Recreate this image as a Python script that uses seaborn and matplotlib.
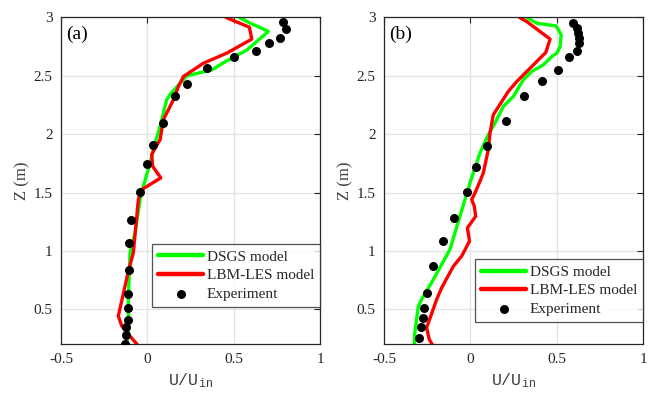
import numpy as np
import pandas as pd
import matplotlib
matplotlib.use("Agg")
import matplotlib.pyplot as plt
import seaborn as sns

sns.set_style("white")
plt.rcParams['font.family'] = ['Liberation Serif', 'DejaVu Serif']
plt.rcParams['mathtext.fontset'] = 'custom'
plt.rcParams['mathtext.tt'] = 'Liberation Mono'
plt.rcParams['mathtext.rm'] = 'Liberation Mono'

# ---------------- Panel (a) ----------------
a_dsgs_u = [0.531, 0.605, 0.643, 0.701, 0.576, 0.45, 0.373, 0.228, 0.132, 0.112,
            0.074, 0.045, 0.016, -0.023, -0.042, -0.071, -0.10, -0.11, -0.11, -0.12]
a_dsgs_z = [3.0, 2.944, 2.92, 2.88, 2.72, 2.62, 2.55, 2.5, 2.34, 2.295,
            2.067, 1.925, 1.754, 1.554, 1.44, 1.157, 0.987, 0.585, 0.30, 0.2]

a_les_u = [0.454, 0.591, 0.605, 0.46, 0.325, 0.209, 0.18, 0.151, 0.093, 0.074,
           0.045, 0.025, 0.031, 0.078, -0.032, -0.052, -0.081, -0.11, -0.168,
           -0.148, -0.10, -0.058]
a_les_z = [3.0, 2.916, 2.814, 2.694, 2.608, 2.494, 2.408, 2.295, 2.124, 1.953,
           1.882, 1.825, 1.725, 1.626, 1.526, 1.44, 0.985, 0.827, 0.443,
           0.357, 0.27, 0.198]

a_exp_u = [0.784, 0.804, 0.769, 0.703, 0.63, 0.502, 0.344, 0.228, 0.162, 0.089,
           0.035, 0.0, -0.042, -0.093, -0.104, -0.104, -0.112, -0.11, -0.112,
           -0.125, -0.125, -0.127]
a_exp_z = [2.964, 2.90, 2.82, 2.785, 2.716, 2.665, 2.568, 2.426, 2.323, 2.10,
           1.91, 1.742, 1.506, 1.269, 1.064, 0.836, 0.631, 0.511, 0.406,
           0.346, 0.28, 0.204]

# ---------------- Panel (b) ----------------
b_dsgs_u = [0.327, 0.385, 0.497, 0.526, 0.52, 0.501, 0.472, 0.423, 0.356, 0.307,
            0.249, 0.191, 0.143, 0.099, 0.056, -0.002, -0.031, -0.118, -0.214,
            -0.282, -0.301, -0.324, -0.324]
b_dsgs_z = [3.0, 2.95, 2.927, 2.85, 2.75, 2.694, 2.665, 2.594, 2.537, 2.466,
            2.323, 2.238, 2.096, 1.981, 1.84, 1.583, 1.44, 1.013, 0.756,
            0.585, 0.528, 0.272, 0.2]

b_les_u = [0.284, 0.327, 0.462, 0.437, 0.327, 0.269, 0.22, 0.133, 0.114, 0.104,
           0.075, 0.056, 0.027, 0.008, 0.023, 0.031, -0.017, -0.005, -0.05,
           -0.098, -0.166, -0.195, -0.253, -0.238, -0.22]
b_les_z = [3.0, 2.964, 2.814, 2.70, 2.537, 2.451, 2.366, 2.167, 2.01, 1.867,
           1.668, 1.597, 1.497, 1.44, 1.383, 1.297, 1.198, 1.084, 0.956,
           0.87, 0.685, 0.585, 0.343, 0.243, 0.198]

b_exp_u = [0.597, 0.616, 0.626, 0.632, 0.63, 0.616, 0.572, 0.506, 0.417, 0.311,
           0.205, 0.099, 0.033, -0.019, -0.093, -0.16, -0.214, -0.249, -0.266,
           -0.272, -0.287, -0.295]
b_exp_z = [2.95, 2.908, 2.865, 2.822, 2.785, 2.716, 2.665, 2.551, 2.457, 2.323,
           2.109, 1.90, 1.716, 1.506, 1.28, 1.087, 0.87, 0.637, 0.509,
           0.423, 0.352, 0.255]

x_ticks = [-0.5, 0, 0.5, 1]
x_ticklabels = ['-0.5', '0', '0.5', '1']
y_ticks = [0.5, 1, 1.5, 2, 2.5, 3]
y_ticklabels = ['0.5', '1', '1.5', '2', '2.5', '3']
series_names = ['DSGS model', 'LBM-LES model', 'Experiment']
panel_labels = ['(a)', '(b)']

fig = plt.figure(figsize=(6.52, 3.98), dpi=100)
W, H = 652, 398
axes = [fig.add_axes([61 / W, 1 - 344.4 / H, 259 / W, 327 / H]),
        fig.add_axes([384 / W, 1 - 344.4 / H, 259 / W, 327 / H])]

panels = [
    (a_dsgs_u, a_dsgs_z, a_les_u, a_les_z, a_exp_u, a_exp_z, 0.115),
    (b_dsgs_u, b_dsgs_z, b_les_u, b_les_z, b_exp_u, b_exp_z, 0.068),
]

axcol = '#262626'
for ax, (du, dz, lu, lz, eu, ez, legy), lab in zip(axes, panels, panel_labels):
    sns.lineplot(x=du, y=dz, sort=False, estimator=None, ax=ax, color='#00ff00',
                 linewidth=2.4, label=series_names[0])
    sns.lineplot(x=lu, y=lz, sort=False, estimator=None, ax=ax, color='#ff0000',
                 linewidth=2.4, label=series_names[1])
    sns.scatterplot(x=eu, y=ez, ax=ax, color='black', s=42, edgecolor='black',
                    linewidth=0, label=series_names[2], zorder=5)
    ax.set_xlim(-0.5, 1)
    ax.set_ylim(0.2, 3)
    ax.set_xticks(x_ticks)
    ax.set_xticklabels(x_ticklabels)
    ax.set_yticks(y_ticks)
    ax.set_yticklabels(y_ticklabels)
    ax.grid(True, color='#e3e3e3', linewidth=0.9)
    ax.set_axisbelow(True)
    ax.tick_params(direction='in', length=4, width=0.8, top=True, right=True,
                   labelsize=11, colors=axcol, labelcolor='#262626', pad=6)
    for s in ax.spines.values():
        s.set_color(axcol)
        s.set_linewidth(0.9)
    ax.set_xlabel(r'$\mathtt{U/U_{in}}$', fontsize=12, color='#404040', labelpad=4)
    ax.set_ylabel('Z (m)', fontsize=12, color='#404040', labelpad=2)
    ax.text(0.02, 0.975, lab, transform=ax.transAxes, fontsize=14,
            va='top', ha='left', color='black')
    leg = ax.legend(loc='lower right', bbox_to_anchor=(1.0, legy), frameon=True,
                    fancybox=False, edgecolor='#262626', fontsize=11,
                    handlelength=2.9, handletextpad=0.25, borderpad=0.4,
                    labelspacing=0.32, borderaxespad=0)
    leg.get_frame().set_linewidth(0.9)
    for h in leg.legend_handles[:2]:
        h.set_linewidth(3.2)

fig.savefig('out.png', dpi=100)
